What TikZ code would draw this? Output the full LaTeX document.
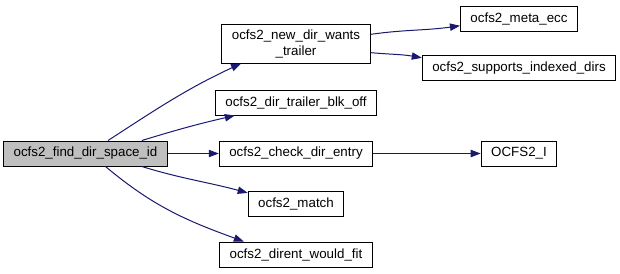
\documentclass[tikz,border=0pt]{standalone}
\usepackage{fontspec}
\setmainfont{Liberation Sans}
\usepackage{xcolor}
\usetikzlibrary{arrows.meta}

\definecolor{edgeblue}{HTML}{191970}
\definecolor{rootgray}{HTML}{BFBFBF}

\begin{document}
\begin{tikzpicture}[x=0.75pt, y=-0.75pt,
        fn/.style={draw, line width=0.75pt, fill=white, inner xsep=7.5pt, inner ysep=0pt,
            minimum height=18.75pt, font=\fontsize{10}{12}\selectfont, align=center},
        call/.style={edgeblue, line width=0.75pt, -{Triangle[length=7.5pt, width=5.5pt]}}]
        \useasboundingbox (0, 0) rectangle (620, 273);

        \node[fn, fill=rootgray] (find) at (85.5, 153.5) {ocfs2\_find\_dir\_space\_id};

        \node[fn, minimum height=29.25pt] (wants) at (296, 43.5) {ocfs2\_new\_dir\_wants\\\_trailer};
        \node[fn] (blkoff) at (296, 102.5) {ocfs2\_dir\_trailer\_blk\_off};
        \node[fn] (check) at (296, 153.5) {ocfs2\_check\_dir\_entry};
        \node[fn] (match) at (296, 204) {ocfs2\_match};
        \node[fn] (fit) at (296, 254.5) {ocfs2\_dirent\_would\_fit};

        \node[fn] (ecc) at (519, 18.5) {ocfs2\_meta\_ecc};
        \node[fn] (indexed) at (519, 68) {ocfs2\_supports\_indexed\_dirs};
        \node[fn] (inode) at (519, 153.5) {OCFS2\_I};

        \draw[call] (find.30) to[out=33, in=205] (wants.200);
        \draw[call] (find.13) to[out=17, in=193] (blkoff.192);
        \draw[call] (find.east) -- (check.west);
        \draw[call] (find.-13) to[out=-17, in=165] (match.167);
        \draw[call] (find.-33) to[out=-40, in=160] (fit.166);

        \draw[call] (wants.7) to[out=8, in=188] (ecc.187);
        \draw[call] (wants.-7) to[out=-5, in=170] (indexed.174);
        \draw[call] (check.east) -- (inode.west);
    \end{tikzpicture}
\end{document}
